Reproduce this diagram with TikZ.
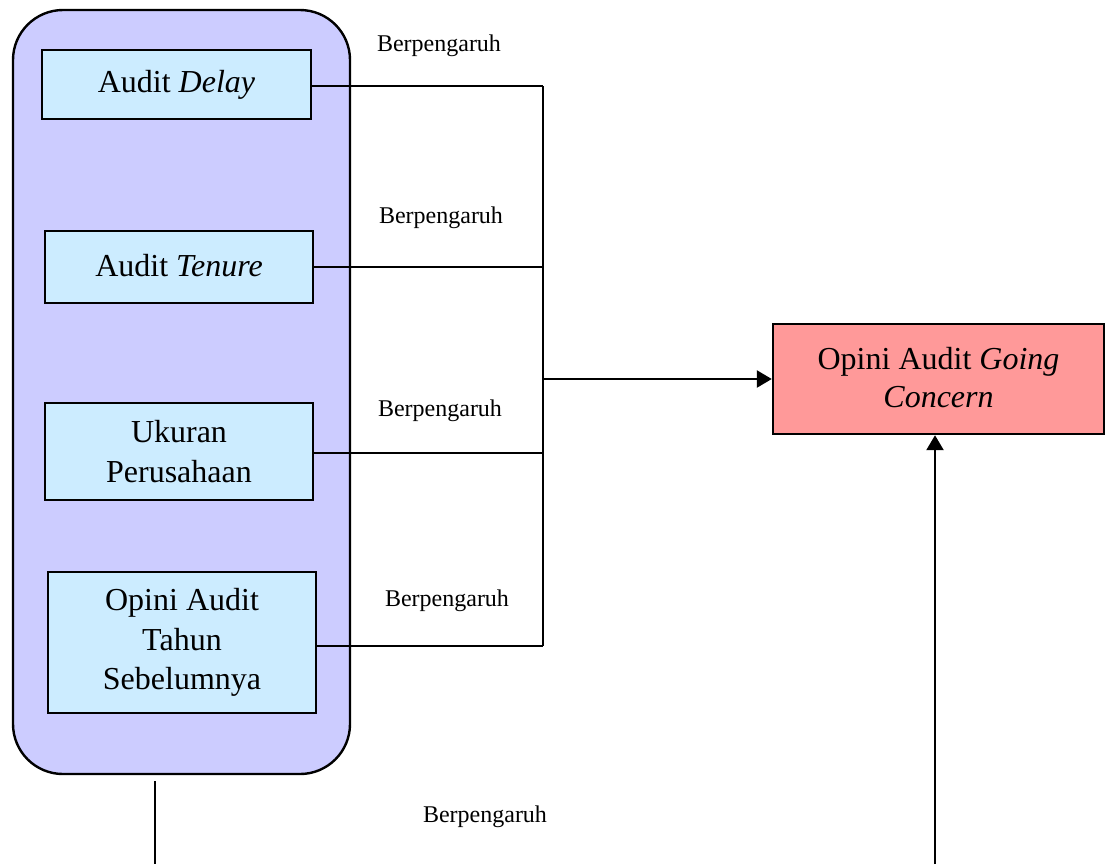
\documentclass[tikz,border=0pt]{standalone}
\usepackage{fontspec}
\setmainfont{Liberation Serif}
\usetikzlibrary{arrows.meta}
\definecolor{groupfill}{HTML}{CCCCFF}
\definecolor{varfill}{HTML}{CCECFF}
\definecolor{outfill}{HTML}{FF9999}
\begin{document}
\begin{tikzpicture}[x=0.5pt,y=-0.5pt,
  line width=1.2pt,
  group/.style={draw=black, fill=groupfill, rounded corners=25pt, line width=1.2pt, inner sep=0pt},
  varbox/.style={draw=black, fill=varfill, line width=1.2pt, align=center, inner sep=0pt, font=\fontsize{16}{19.75}\selectfont},
  outbox/.style={draw=black, fill=outfill, line width=1.2pt, align=center, inner sep=0pt, font=\fontsize{16}{19}\selectfont},
  lbl/.style={font=\fontsize{12}{14}\selectfont, inner sep=0pt},
  arr/.style={-{Triangle[length=7.5pt,width=8.5pt]}}
]
\useasboundingbox (0,0) rectangle (1111,864);
\node[group, minimum width=168.5pt, minimum height=382pt] (grp) at (181.5,392) {};
\node[varbox, minimum width=134.5pt, minimum height=34.5pt] (b1) at (176.5,84.5) {Audit \textit{Delay}};
\node[varbox, minimum width=134pt, minimum height=36pt] (b2) at (179,267) {\raisebox{1.5pt}{Audit \textit{Tenure}}};
\node[varbox, minimum width=134pt, minimum height=48.5pt] (b3) at (179,451.5) {Ukuran\\Perusahaan};
\node[varbox, minimum width=134pt, minimum height=70.5pt] (b4) at (182,642.5) {Opini Audit\\Tahun\\Sebelumnya};
\node[outbox, minimum width=165.5pt, minimum height=55pt] (out) at (938.5,379) {\raisebox{1.5pt}{Opini Audit \textit{Going}}\\\raisebox{1.5pt}{\textit{Concern}}};

\coordinate (vt) at (543,86);
\coordinate (v3) at (543,453);
\coordinate (vb) at (543,646);
\coordinate (vm) at (543,379);
\draw (b1.east |- vt) -- (vt);
\draw (b2.east) -- (b2.east -| vt);
\draw (b3.east |- v3) -- (v3);
\draw (b4.east |- vb) -- (vb);
\draw (vt) -- (vb);
\draw[arr] (vm) -- (out.west |- vm);

\coordinate (bt) at (155,781);
\coordinate (bl) at (155,864);
\draw (bt) -- (bl);
\coordinate (ab) at (935,864);
\draw[arr] (ab) -- (ab |- out.south);

\node[lbl] (l1) at (439,46) {Berpengaruh};
\node[lbl] (l2) at (441,218) {Berpengaruh};
\node[lbl] (l3) at (440,411) {Berpengaruh};
\node[lbl] (l4) at (447,601) {Berpengaruh};
\node[lbl] (l5) at (485,817) {Berpengaruh};
\end{tikzpicture}
\end{document}
